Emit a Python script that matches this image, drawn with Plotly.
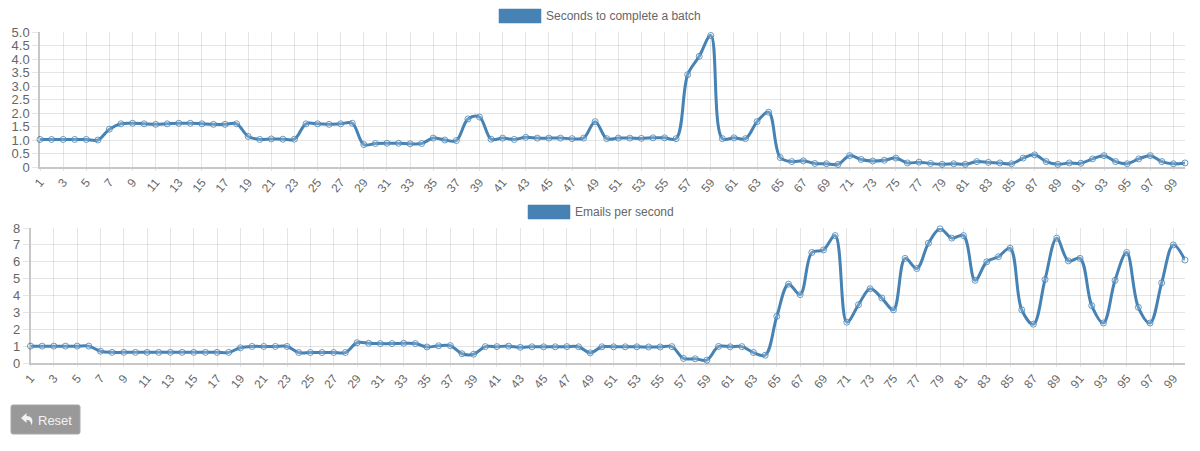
import plotly.graph_objects as go
from plotly.subplots import make_subplots

W, H = 1200, 451
STEEL = '#4682B4'
GRID = 'rgba(0,0,0,0.1)'
TEXT = '#666666'
FONT = 'Liberation Sans'

batches = list(range(1, 101))
x_ticks = list(range(1, 100, 2))

seconds_title = 'Seconds to complete a batch'
seconds = [1.02, 1.02, 1.02, 1.02, 1.02, 1.0, 1.4, 1.6, 1.62, 1.6,
           1.58, 1.6, 1.62, 1.62, 1.6, 1.58, 1.58, 1.6, 1.13, 1.02,
           1.04, 1.03, 1.03, 1.6, 1.6, 1.58, 1.6, 1.62, 0.83, 0.87,
           0.88, 0.88, 0.86, 0.87, 1.07, 1.0, 0.98, 1.78, 1.85, 1.03,
           1.07, 1.02, 1.1, 1.07, 1.07, 1.07, 1.05, 1.07, 1.68, 1.05,
           1.07, 1.07, 1.06, 1.08, 1.08, 1.05, 3.42, 4.1, 4.87, 1.05,
           1.08, 1.05, 1.68, 2.03, 0.35, 0.2, 0.23, 0.13, 0.12, 0.1,
           0.42, 0.28, 0.22, 0.25, 0.33, 0.15, 0.18, 0.13, 0.1, 0.12,
           0.1, 0.2, 0.17, 0.15, 0.12, 0.33, 0.45, 0.2, 0.1, 0.15,
           0.14, 0.3, 0.42, 0.2, 0.12, 0.3, 0.42, 0.2, 0.12, 0.15]
seconds_ticks = [0, 0.5, 1, 1.5, 2, 2.5, 3, 3.5, 4, 4.5, 5]
seconds_labels = ['0', '0.5', '1.0', '1.5', '2.0', '2.5', '3.0', '3.5', '4.0', '4.5', '5.0']

emails_title = 'Emails per second'
emails = [1.0, 1.0, 1.0, 1.0, 1.0, 1.0, 0.7, 0.63, 0.63, 0.63,
          0.63, 0.63, 0.63, 0.63, 0.63, 0.63, 0.63, 0.63, 0.9, 0.98,
          0.98, 0.98, 0.98, 0.62, 0.62, 0.62, 0.62, 0.62, 1.2, 1.17,
          1.15, 1.15, 1.17, 1.15, 0.95, 1.02, 1.03, 0.55, 0.52, 0.97,
          0.97, 1.0, 0.93, 0.96, 0.96, 0.96, 0.97, 0.96, 0.6, 0.96,
          0.96, 0.96, 0.96, 0.95, 0.95, 0.97, 0.27, 0.25, 0.17, 0.98,
          0.96, 0.97, 0.62, 0.46, 2.77, 4.67, 4.05, 6.55, 6.7, 7.55,
          2.42, 3.45, 4.4, 3.85, 3.15, 6.2, 5.6, 7.1, 7.95, 7.4,
          7.55, 4.9, 6.0, 6.3, 6.8, 3.15, 2.3, 4.95, 7.4, 6.05,
          6.2, 3.4, 2.37, 4.9, 6.55, 3.3, 2.37, 4.75, 7.0, 6.1]
emails_ticks = [0, 1, 2, 3, 4, 5, 6, 7, 8]


def px(v):
    return v / W


def py(v):
    return 1 - v / H


def add_chart(fig, row, values, ticks, labels, left, top, bottom, ymax):
    fig.add_trace(go.Scatter(x=batches, y=values, mode='lines+markers',
                             line=dict(color=STEEL, width=3, shape='spline', smoothing=1),
                             marker=dict(size=6, color='rgba(255,255,255,0.2)',
                                         line=dict(color='rgba(70,130,180,0.8)', width=1)),
                             cliponaxis=False, showlegend=False),
                  row=row, col=1)
    fig.update_xaxes(domain=[px(left), px(1185)], range=[1, 100], automargin=False,
                     tickmode='array', tickvals=x_ticks, ticktext=[str(t) for t in x_ticks],
                     tickangle=-50, showgrid=True, gridcolor=GRID, gridwidth=1,
                     zeroline=False, showline=True, linecolor='rgba(0,0,0,0.22)', linewidth=1.5,
                     ticks='outside', ticklen=2, tickcolor=GRID,
                     tickfont=dict(family=FONT, size=12, color=TEXT),
                     row=row, col=1)
    fig.update_yaxes(domain=[py(bottom), py(top)], range=[0, ymax], automargin=False,
                     tickmode='array', tickvals=ticks, ticktext=labels,
                     showgrid=True, gridcolor=GRID, gridwidth=1,
                     zeroline=False, showline=True, linecolor='rgba(0,0,0,0.22)', linewidth=1.5,
                     ticks='outside', ticklen=6, tickcolor=GRID,
                     tickfont=dict(family=FONT, size=13, color=TEXT),
                     row=row, col=1)


def add_legend(fig, text, box_x, text_x, y):
    fig.add_shape(type='rect', xref='paper', yref='paper',
                  x0=px(box_x), x1=px(box_x + 42), y0=py(y + 7), y1=py(y - 7),
                  fillcolor=STEEL, line=dict(color='rgba(70,130,180,0.5)', width=1))
    fig.add_annotation(text=text, xref='paper', yref='paper', x=px(text_x), y=py(y),
                       xanchor='left', yanchor='middle', showarrow=False,
                       font=dict(family=FONT, size=12, color=TEXT))


fig = make_subplots(rows=2, cols=1)
add_chart(fig, 1, seconds, seconds_ticks, seconds_labels, 40, 32, 167, 5)
add_chart(fig, 2, emails, emails_ticks, [str(t) for t in emails_ticks], 30.5, 228, 363, 8)

add_legend(fig, seconds_title, 499, 543.5, 16)
add_legend(fig, emails_title, 528, 572.5, 212)

# boton Reset
r = 2
fig.add_shape(type='path', xref='paper', yref='paper', fillcolor='#999999',
              line=dict(color='#a8a8a8', width=1),
              path=f'M {px(11 + r)} {py(405)} L {px(80 - r)} {py(405)} Q {px(80)} {py(405)} {px(80)} {py(405 + r)} '
                   f'L {px(80)} {py(434 - r)} Q {px(80)} {py(434)} {px(80 - r)} {py(434)} '
                   f'L {px(11 + r)} {py(434)} Q {px(11)} {py(434)} {px(11)} {py(434 - r)} '
                   f'L {px(11)} {py(405 + r)} Q {px(11)} {py(405)} {px(11 + r)} {py(405)} Z')
fig.add_shape(type='path', xref='paper', yref='paper', fillcolor='#f2f2f2', line=dict(width=0),
              path=f'M {px(21)} {py(418)} L {px(26.5)} {py(413)} L {px(26.5)} {py(416)} '
                   f'C {px(31)} {py(416)} {px(34)} {py(419)} {px(31.5)} {py(425.5)} '
                   f'C {px(31)} {py(422)} {px(30)} {py(420)} {px(26.5)} {py(420)} '
                   f'L {px(26.5)} {py(423)} Z')
fig.add_annotation(text='Reset', xref='paper', yref='paper', x=px(36), y=py(420),
                   xanchor='left', yanchor='middle', showarrow=False,
                   font=dict(family=FONT, size=13, color='#f2f2f2'))

fig.update_layout(width=W, height=H, margin=dict(l=0, r=0, t=0, b=0),
                  paper_bgcolor='white', plot_bgcolor='white')

fig.write_html('out.html', config=dict(displayModeBar=False),
               post_script="document.body.style.margin='0';")
